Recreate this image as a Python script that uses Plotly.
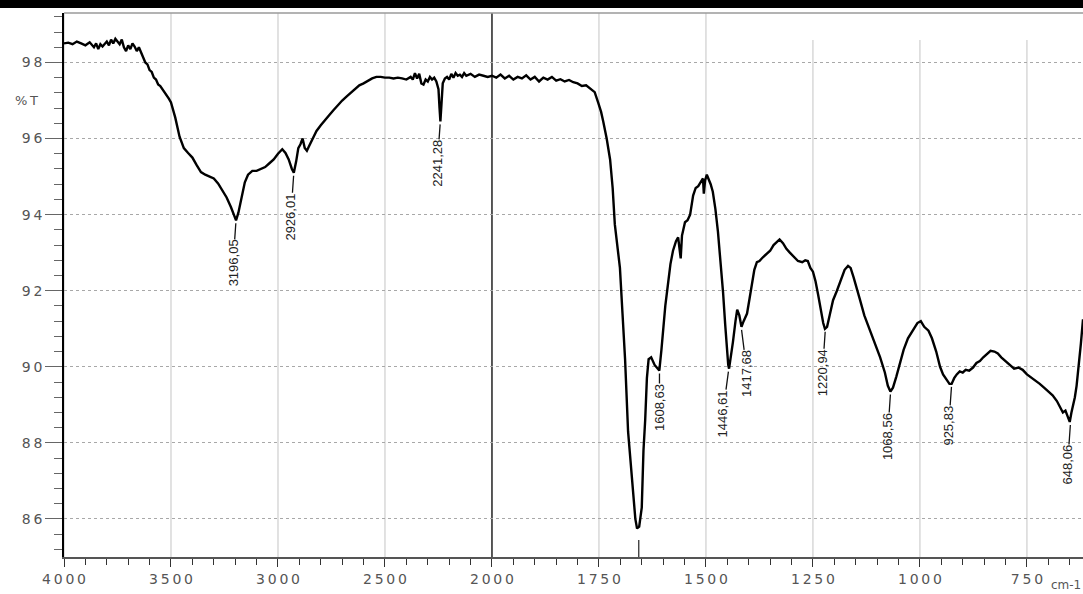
import numpy as np
import plotly.graph_objects as go

# ---------------- data ----------------
wavenumber = [
    4000, 3980, 3960, 3940, 3920, 3900, 3880, 3860, 3850, 3840, 3830, 3820, 3800, 3790, 3780, 3770,
    3760, 3750, 3740, 3730, 3720, 3710, 3700, 3690, 3680, 3670, 3660, 3650, 3640, 3630, 3620, 3610,
    3600, 3590, 3580, 3570, 3560, 3550, 3540, 3530, 3520, 3510, 3500, 3480, 3460, 3440, 3420, 3400,
    3380, 3360, 3340, 3320, 3300, 3280, 3260, 3240, 3220, 3200, 3196, 3185, 3170, 3155, 3140, 3120,
    3100, 3080, 3060, 3040, 3020, 3000, 2980, 2965, 2950, 2935, 2926, 2915, 2905, 2895, 2885, 2875,
    2865, 2855, 2840, 2820, 2800, 2780, 2760, 2740, 2720, 2700, 2680, 2660, 2640, 2620, 2600, 2580,
    2560, 2540, 2520, 2500, 2480, 2460, 2440, 2420, 2400, 2380, 2370, 2360, 2350, 2340, 2330, 2320,
    2310, 2300, 2290, 2280, 2270, 2260, 2250, 2245, 2241, 2236, 2230, 2220, 2210, 2200, 2190, 2180,
    2170, 2160, 2150, 2140, 2130, 2120, 2100, 2080, 2060, 2040, 2020, 2000,
    1990, 1980, 1970, 1960, 1950, 1940, 1930, 1920, 1910, 1900, 1890, 1880, 1870, 1860, 1850, 1840,
    1830, 1820, 1810, 1800, 1790, 1780, 1770, 1760, 1752, 1745, 1740, 1732, 1724, 1718, 1713, 1707,
    1701, 1695, 1689, 1682, 1676, 1671, 1665, 1661, 1656, 1650, 1646, 1642, 1638, 1634, 1628, 1620,
    1614, 1609, 1604, 1600, 1595, 1589, 1583, 1577, 1570, 1565, 1561, 1559, 1556, 1549, 1543, 1537,
    1530, 1524, 1518, 1512, 1507, 1505, 1502, 1498, 1494, 1489, 1484, 1478, 1472, 1466, 1460, 1455,
    1451, 1448, 1446, 1443, 1437, 1431, 1427, 1422, 1417, 1412, 1404, 1398, 1393, 1387, 1381, 1375,
    1367, 1360, 1350, 1342, 1334, 1328, 1320, 1312, 1304, 1295, 1285, 1275, 1268, 1262, 1256, 1250,
    1244, 1238, 1232, 1226, 1222, 1217, 1210, 1203, 1194, 1185, 1176, 1168, 1162, 1155, 1148, 1141,
    1130, 1117, 1105, 1093, 1082, 1075, 1069, 1063, 1055, 1046, 1038, 1028, 1016, 1006, 998, 990,
    980, 972, 962, 953, 946, 938, 931, 926, 920, 914, 907, 900, 893, 885, 876, 868,
    860, 852, 843, 835, 826, 818, 810, 800, 790, 780, 770, 760, 750, 740, 730, 720,
    710, 700, 690, 680, 672, 666, 660, 654, 650, 646, 642, 638, 634, 628, 624, 619,
]
transmittance = [
    98.50, 98.52, 98.48, 98.55, 98.50, 98.45, 98.53, 98.40, 98.50, 98.35, 98.48, 98.42, 98.55, 98.45, 98.60, 98.50,
    98.62, 98.55, 98.48, 98.60, 98.40, 98.30, 98.45, 98.35, 98.50, 98.42, 98.30, 98.40, 98.25, 98.10, 98.00, 97.95,
    97.80, 97.75, 97.60, 97.55, 97.42, 97.38, 97.30, 97.20, 97.15, 97.05, 96.95, 96.55, 96.05, 95.75, 95.62, 95.50,
    95.30, 95.12, 95.05, 95.00, 94.95, 94.82, 94.65, 94.45, 94.20, 93.90, 93.85, 94.05, 94.50, 94.85, 95.05, 95.15,
    95.15, 95.20, 95.25, 95.35, 95.45, 95.60, 95.72, 95.62, 95.45, 95.20, 95.10, 95.40, 95.75, 95.85, 96.00, 95.75,
    95.68, 95.80, 95.98, 96.20, 96.35, 96.50, 96.62, 96.75, 96.88, 97.00, 97.10, 97.20, 97.30, 97.40, 97.45, 97.52,
    97.58, 97.62, 97.62, 97.60, 97.60, 97.58, 97.60, 97.58, 97.55, 97.62, 97.55, 97.72, 97.58, 97.70, 97.45, 97.42,
    97.55, 97.50, 97.62, 97.55, 97.60, 97.50, 97.30, 96.80, 96.45, 96.90, 97.45, 97.58, 97.62, 97.55, 97.70, 97.60,
    97.72, 97.65, 97.68, 97.62, 97.72, 97.65, 97.70, 97.62, 97.68, 97.65, 97.62, 97.65,
    97.60, 97.68, 97.58, 97.65, 97.55, 97.62, 97.58, 97.66, 97.55, 97.62, 97.50, 97.60, 97.55, 97.62, 97.52, 97.56,
    97.50, 97.54, 97.48, 97.45, 97.38, 97.40, 97.30, 97.22, 96.95, 96.70, 96.45, 96.00, 95.45, 94.70, 93.75, 93.20,
    92.60, 91.40, 90.20, 88.30, 87.40, 86.70, 86.00, 85.75, 85.80, 86.30, 87.80, 88.60, 89.70, 90.20, 90.25, 90.05,
    89.95, 89.90, 90.45, 91.05, 91.60, 92.15, 92.70, 93.05, 93.30, 93.40, 93.10, 92.85, 93.45, 93.80, 93.85, 94.00,
    94.50, 94.70, 94.75, 94.85, 94.95, 94.55, 94.90, 95.05, 94.95, 94.80, 94.60, 94.15, 93.55, 92.80, 91.95, 91.10,
    90.40, 90.05, 89.95, 90.15, 90.65, 91.20, 91.50, 91.35, 91.05, 91.20, 91.40, 91.80, 92.15, 92.55, 92.75, 92.78,
    92.88, 92.95, 93.05, 93.20, 93.30, 93.35, 93.25, 93.10, 93.00, 92.90, 92.78, 92.75, 92.80, 92.78, 92.60, 92.50,
    92.25, 91.90, 91.50, 91.15, 91.00, 91.05, 91.40, 91.75, 92.00, 92.30, 92.55, 92.65, 92.60, 92.35, 92.10, 91.80,
    91.35, 90.95, 90.60, 90.25, 89.85, 89.50, 89.35, 89.45, 89.75, 90.10, 90.45, 90.75, 90.95, 91.15, 91.20, 91.05,
    90.95, 90.75, 90.40, 90.00, 89.80, 89.65, 89.55, 89.55, 89.70, 89.80, 89.88, 89.85, 89.92, 89.90, 89.98, 90.10,
    90.15, 90.25, 90.35, 90.42, 90.40, 90.35, 90.25, 90.15, 90.05, 89.95, 89.98, 89.92, 89.80, 89.72, 89.65, 89.55,
    89.45, 89.35, 89.25, 89.10, 88.95, 88.80, 88.85, 88.65, 88.55, 88.80, 89.00, 89.20, 89.50, 90.10, 90.60, 91.25,
]

# labelled peaks
peak_wn = [3196.05, 2926.01, 2241.28, 1608.63, 1446.61, 1417.68, 1220.94, 1068.56, 925.83, 648.06]
peak_t = [93.85, 95.10, 96.45, 89.90, 89.95, 91.05, 91.00, 89.35, 89.55, 88.55]
peak_labels = ["3196,05", "2926,01", "2241,28", "1608,63", "1446,61", "1417,68",
               "1220,94", "1068,56", "925,83", "648,06"]
strong_peak_wn = 1657
strong_peak_t = 85.75

x_tick_wn = [4000, 3500, 3000, 2500, 2000, 1750, 1500, 1250, 1000, 750]
x_tick_labels = ["4000", "3500", "3000", "2500", "2000", "1750", "1500", "1250", "1000", "750"]
y_tick_vals = [86, 88, 90, 92, 94, 96, 98]

# ---------------- helpers ----------------
def xt(w):
    """Instrument axis: 2x expanded scale below 2000 cm-1."""
    w = np.asarray(w, dtype=float)
    return np.where(w > 2000, 2000 + (w - 2000) / 2.0, w)

def spaced(s):
    return "\u2009".join(list(s))

W, H = 1083, 594
ML, MR, MT, MB = 64, 0, 13, 37
PW, PH = W - ML - MR, H - MT - MB

fig = go.Figure()

# vertical grid lines (the three right-most ones stop short of the frame top)
for w in x_tick_wn:
    if w == 2000:
        continue
    top = 1.0 if w >= 1500 else (H - MB - 40) / PH
    fig.add_shape(type="line", x0=float(xt(w)), x1=float(xt(w)), y0=0, y1=top, yref="y domain",
                  line=dict(color="#c4c4c4", width=1), layer="below")

# darker separator at the scale change
fig.add_shape(type="line", x0=2000, x1=2000, y0=0, y1=1, yref="y domain",
              line=dict(color="#222", width=1.5), layer="below")

fig.add_trace(go.Scatter(
    x=xt(wavenumber), y=transmittance, mode="lines",
    line=dict(color="black", width=2.4, shape="linear"),
    hoverinfo="skip", showlegend=False,
))

label_font = dict(family="Liberation Sans, Arial, sans-serif", size=13, color="#222")
ay_list = [43, 44, 42, 37, 45, 47, 44, 45, 42, 43]
ax_list = [-3, -3, -3, 0, -6, 6, -3, -3, -3, -3]
for w, t, lab, ay, ax in zip(peak_wn, peak_t, peak_labels, ay_list, ax_list):
    fig.add_annotation(
        x=float(xt(w)), y=t, text=lab, textangle=-90, font=label_font,
        showarrow=True, arrowhead=0, arrowwidth=1.3, arrowcolor="#111",
        ax=ax, ay=ay, standoff=3, borderpad=0,
    )

# marker line of the strongest band (its label lies below the frame)
fig.add_shape(type="line", x0=float(xt(strong_peak_wn)), x1=float(xt(strong_peak_wn)),
              y0=strong_peak_t - 0.3, y1=85.0, line=dict(color="#222", width=1.2))

# frame top line and the thick black band above the chart
fig.add_shape(type="line", xref="paper", yref="paper", x0=0, x1=1, y0=1, y1=1,
              line=dict(color="#9a9a9a", width=1.5))
fig.add_shape(type="rect", xref="paper", yref="paper", x0=-ML / PW, x1=1.0,
              y0=1 + (MT - 8) / PH, y1=1 + MT / PH + 0.01,
              fillcolor="black", line=dict(width=0))

tick_font = dict(family="DejaVu Sans, Verdana, sans-serif", size=14, color="#555")

fig.add_annotation(xref="paper", yref="y", x=-51 / PW, y=97.0, text=spaced("%T"),
                   showarrow=False, font=dict(family="DejaVu Sans, sans-serif", size=13, color="#555"),
                   xanchor="left", yanchor="middle")
fig.add_annotation(xref="paper", yref="paper", x=1.0, y=-(585 - (H - MB)) / PH,
                   text="cm-1", showarrow=False, xanchor="right", yanchor="middle",
                   font=dict(family="DejaVu Sans, sans-serif", size=12, color="#555"))

fig.update_xaxes(
    range=[3000, 619], autorange=False,
    tickmode="array", tickvals=xt(x_tick_wn).tolist(),
    ticktext=[spaced(s) for s in x_tick_labels],
    ticks="outside", ticklen=8, tickwidth=1.3, tickcolor="#333",
    minor=dict(dtick=50, tick0=0, ticks="outside", ticklen=6, tickwidth=1.2,
               tickcolor="#333", showgrid=False),
    showgrid=False,
    showline=True, linecolor="#555", linewidth=1.5,
    tickfont=tick_font, zeroline=False,
)
fig.update_yaxes(
    range=[85.0, 99.3], autorange=False,
    tickmode="array", tickvals=y_tick_vals, ticktext=[spaced(str(v)) for v in y_tick_vals],
    ticks="outside", ticklen=17, tickwidth=1.3, tickcolor="#666",
    minor=dict(dtick=0.4, tick0=0, ticks="outside", ticklen=8, tickwidth=1.2,
               tickcolor="#666", showgrid=False),
    showgrid=True, gridcolor="#a8a8a8", gridwidth=1.2, griddash="dot",
    showline=True, linecolor="black", linewidth=1.6,
    tickfont=tick_font, zeroline=False,
)

fig.update_layout(
    width=W, height=H,
    margin=dict(l=ML, r=MR, t=MT, b=MB, pad=0),
    paper_bgcolor="white", plot_bgcolor="white",
    showlegend=False,
)

# remove the browser's default 8px page margin so the figure fills the window
fig.write_html("out.html", config={"displayModeBar": False},
               post_script="document.body.style.margin='0px';")
